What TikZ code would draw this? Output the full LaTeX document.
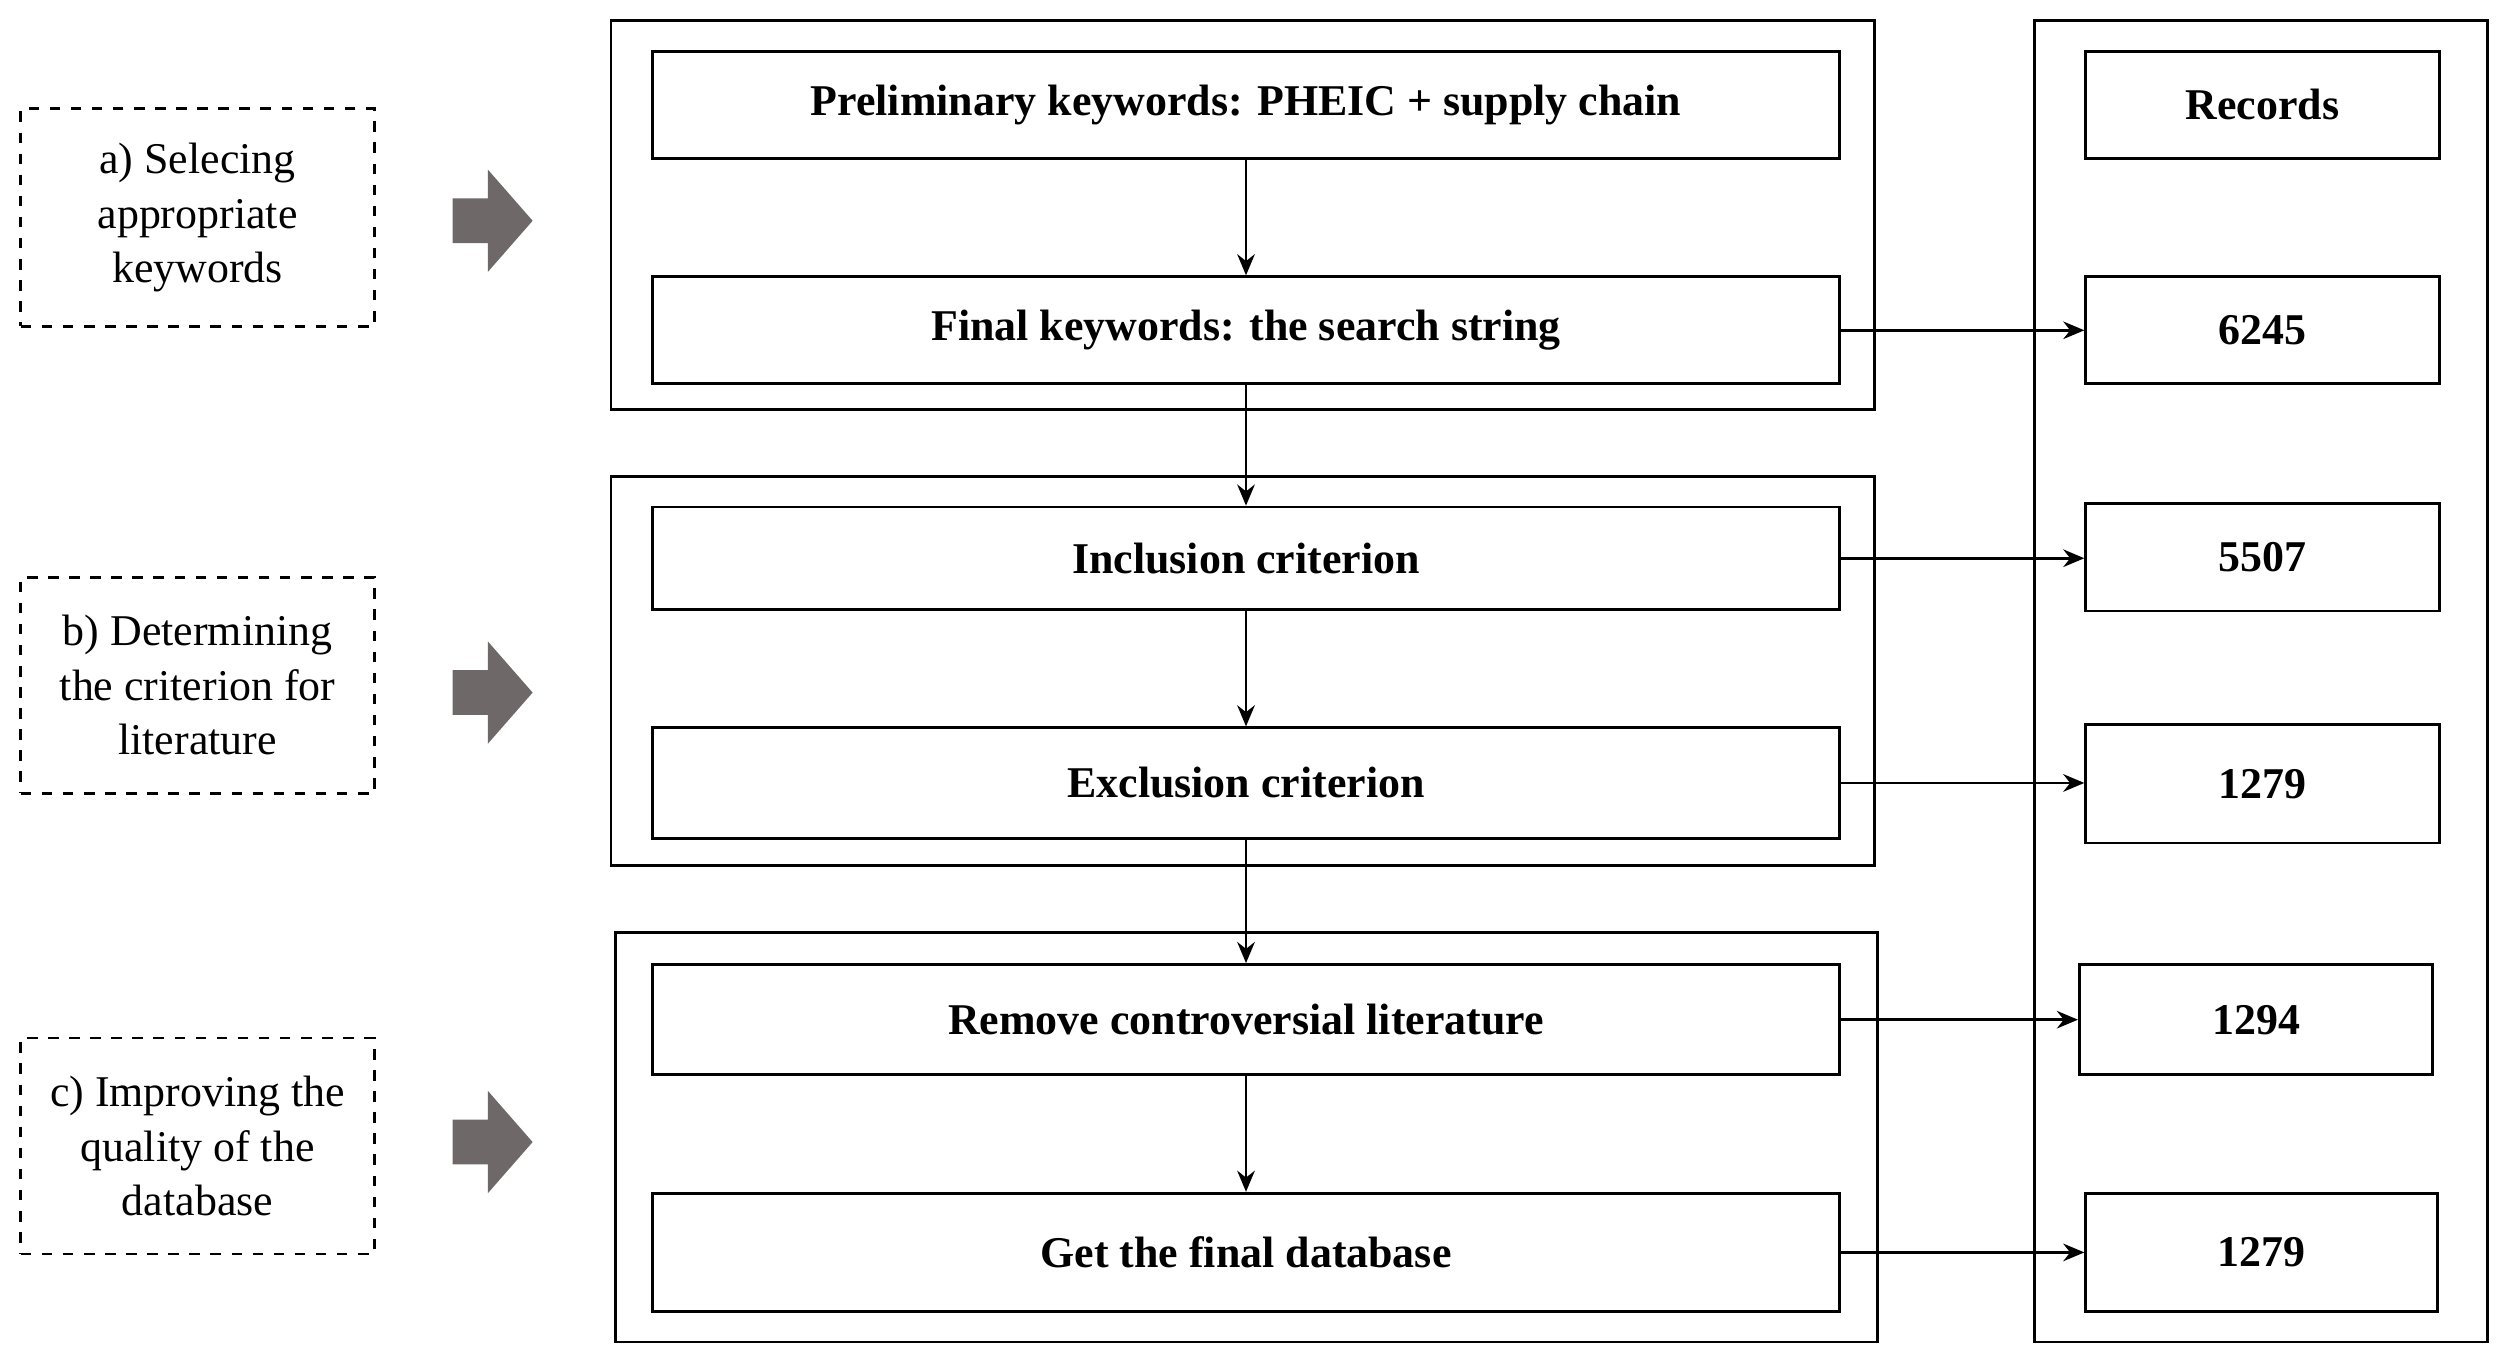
\documentclass[tikz,border=0pt]{standalone}
\usepackage{fontspec}
\setmainfont{Liberation Serif}
\usetikzlibrary{arrows.meta}
\definecolor{arrowgray}{HTML}{6E6968}
\tikzset{x=0.016cm, y=-0.016cm,
	 >= {Stealth[length=6pt, width=5pt]},
	 group/.style = {draw, thick},
	 stepbox/.style = {draw, thick, font=\fontsize{12.5}{15}\selectfont\bfseries},
	 phase/.style = {draw, thick, dashed, align=center,
			 font=\fontsize{12.5}{15.5}\selectfont},
	 bigarrow/.style = {fill=arrowgray, draw=none}}
\begin{document}
\begin{tikzpicture}
      \useasboundingbox (0,0) rectangle (1568,851);
      % phases
      \node [phase, minimum width=221*0.016cm, minimum height=136*0.016cm] (pa) at (123.5,136) {a) Selecing\\appropriate\\keywords};
      \node [phase, minimum width=221*0.016cm, minimum height=135*0.016cm] (pb) at (123.5,428.5) {b) Determining\\the criterion for\\literature};
      \node [phase, minimum width=221*0.016cm, minimum height=135*0.016cm] (pc) at (123.5,716.5) {c) Improving the\\quality of the\\database};
      \foreach \yc in {138, 433, 714}
	\fill [bigarrow] (283,\yc-14) -- (305,\yc-14) -- (305,\yc-32) -- (333,\yc)
	      -- (305,\yc+32) -- (305,\yc+14) -- (283,\yc+14) -- cycle;
      % groups
      \draw [group] (382,13) rectangle (1172,256);
      \draw [group] (382,298) rectangle (1172,541);
      \draw [group] (385,583) rectangle (1174,839);
      \draw [group] (1272,13) rectangle (1555,839);
      % steps
      \node [stepbox, minimum width=742*0.016cm, minimum height=67*0.016cm] (s1) at (779,65.5) {Preliminary keywords: PHEIC + supply chain};
      \node [stepbox, minimum width=742*0.016cm, minimum height=67*0.016cm] (s2) at (779,206.5) {Final keywords: the search string};
      \node [stepbox, minimum width=742*0.016cm, minimum height=64*0.016cm] (s3) at (779,349) {Inclusion criterion};
      \node [stepbox, minimum width=742*0.016cm, minimum height=69*0.016cm] (s4) at (779,489.5) {Exclusion criterion};
      \node [stepbox, minimum width=742*0.016cm, minimum height=69*0.016cm] (s5) at (779,637.5) {Remove controversial literature};
      \node [stepbox, minimum width=742*0.016cm, minimum height=74*0.016cm] (s6) at (779,783) {Get the final database};
      % records
      \node [stepbox, minimum width=221*0.016cm, minimum height=67*0.016cm] (r0) at (1414.5,65.5) {Records};
      \node [stepbox, minimum width=221*0.016cm, minimum height=67*0.016cm] (r1) at (1414.5,206.5) {6245};
      \node [stepbox, minimum width=221*0.016cm, minimum height=67*0.016cm] (r2) at (1414.5,348.5) {5507};
      \node [stepbox, minimum width=221*0.016cm, minimum height=74*0.016cm] (r3) at (1414.5,490) {1279};
      \node [stepbox, minimum width=221*0.016cm, minimum height=69*0.016cm] (r4) at (1410.5,637.5) {1294};
      \node [stepbox, minimum width=220*0.016cm, minimum height=74*0.016cm] (r5) at (1414,783) {1279};
      % connectors
      \foreach \a/\b in {s1/s2, s2/s3, s3/s4, s4/s5, s5/s6}
	\draw [thick, ->] (\a) -- (\b);
      \foreach \a/\b in {s2/r1, s3/r2, s4/r3, s5/r4, s6/r5}
	\draw [thick, ->] (\a.east) -- (\a.east -| \b.west);
\end{tikzpicture}
\end{document}
